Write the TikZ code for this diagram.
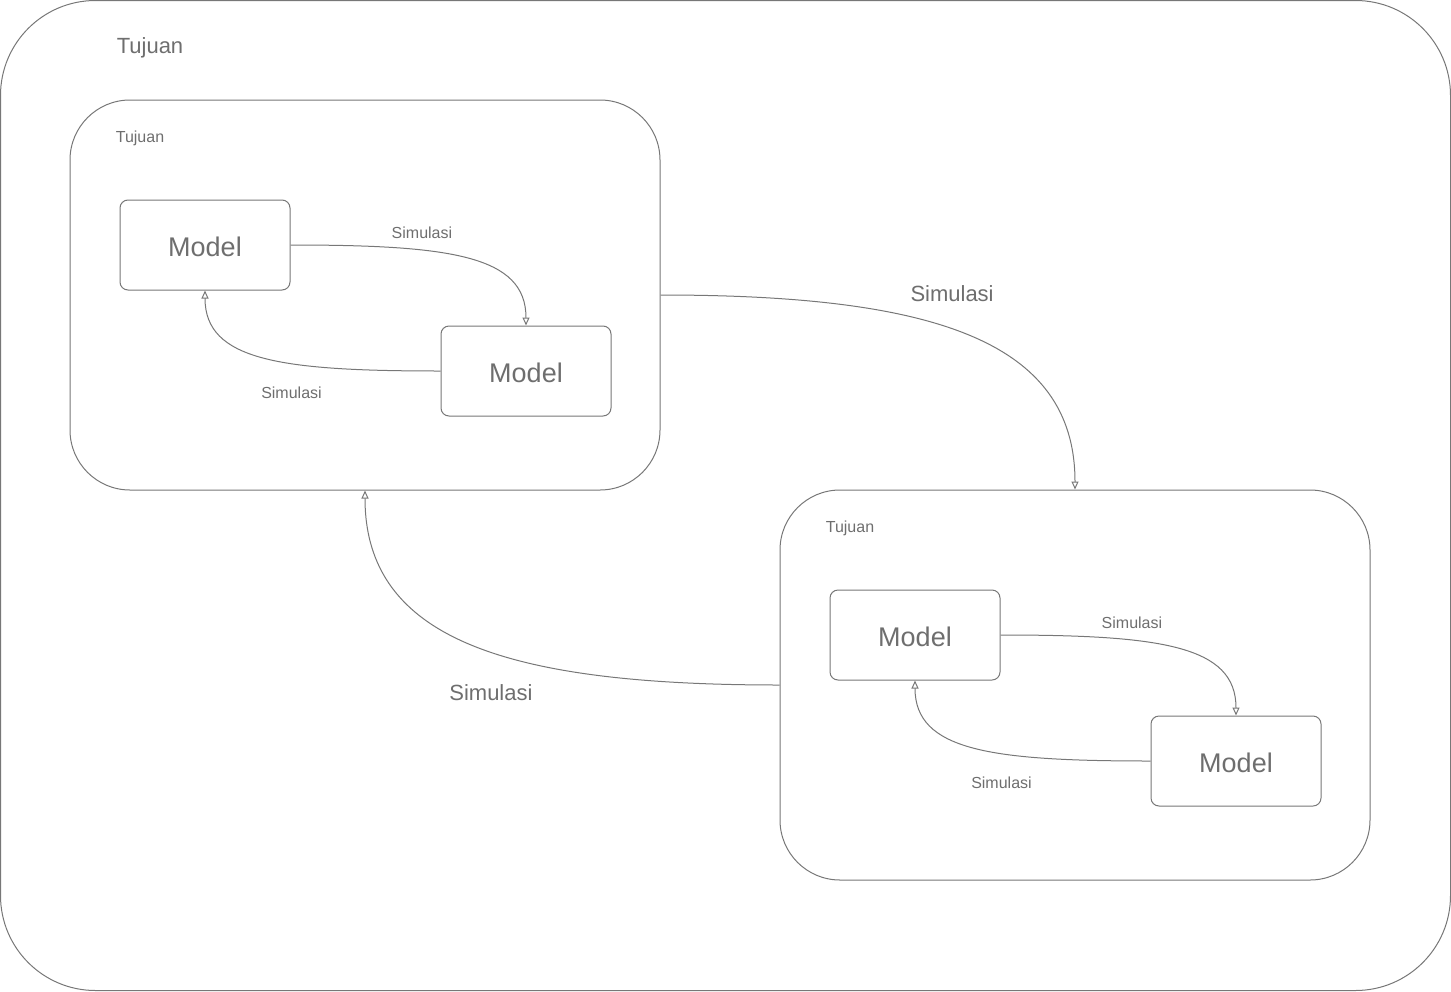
\documentclass[tikz,border=0pt]{standalone}
\usepackage{fontspec}
\setmainfont{Liberation Sans}
\usepackage{xcolor}
\usetikzlibrary{arrows.meta,positioning}
\definecolor{inkgray}{HTML}{777777}
\definecolor{txtgray}{HTML}{6E6E6E}
\newcommand{\mdltext}{\raisebox{-2pt}[\height][\depth]{Model}}

\begin{document}
\begin{tikzpicture}[x=1pt,y=-1pt,
  grp/.style={draw=inkgray,line width=1pt,rounded corners=60pt,minimum width=590pt,minimum height=390pt,inner sep=0pt},
  mdl/.style={draw=inkgray,line width=1pt,rounded corners=8pt,minimum width=170pt,minimum height=90pt,inner sep=0pt,text=txtgray,font=\fontsize{27}{32}\selectfont},
  lblS/.style={text=txtgray,font=\fontsize{16}{19}\selectfont,inner sep=0pt},
  lblB/.style={text=txtgray,font=\fontsize{22}{26}\selectfont,inner sep=0pt},
  arr/.style={-{Triangle[open,length=8pt,width=7pt]},draw=inkgray,line width=1pt}]
\useasboundingbox (0,0) rectangle (1451,991);
\draw[inkgray,line width=1pt,rounded corners=95pt] (0.5,0.5) rectangle (1450.5,990.5);
\node[lblB] (tO) at (150,48) {Tujuan};
% first group
\node[grp] (gA) at (365,295) {};
\node[lblS] (tA) at (140,138) {Tujuan};
\node[mdl] (a1) at (205,245) {\mdltext};
\node[mdl,below right=35pt and 150pt of a1] (a2) {\mdltext};
\draw[arr] (a1.east) .. controls +(160,0) and +(0,-70) .. node[lblS,pos=0.3,above=10pt,xshift=10pt]{Simulasi} (a2.north);
\draw[arr] (a2.west) .. controls +(-160,0) and +(0,70) .. node[lblS,pos=0.4,below=24pt,xshift=3pt]{Simulasi} (a1.south);
% second group
\node[grp] (gB) at (1075,685) {};
\node[lblS] (tB) at (850,528) {Tujuan};
\node[mdl] (b1) at (915,635) {\mdltext};
\node[mdl,below right=35pt and 150pt of b1] (b2) {\mdltext};
\draw[arr] (b1.east) .. controls +(160,0) and +(0,-70) .. node[lblS,pos=0.3,above=10pt,xshift=10pt]{Simulasi} (b2.north);
\draw[arr] (b2.west) .. controls +(-160,0) and +(0,70) .. node[lblS,pos=0.4,below=24pt,xshift=3pt]{Simulasi} (b1.south);
% between groups
\draw[arr] (gA.east) .. controls +(270,0) and +(0,-150) .. node[lblB,pos=0.47,above=29pt,xshift=-4pt]{Simulasi} (gB.north);
\draw[arr] (gB.west) .. controls +(-270,0) and +(0,150) .. node[lblB,pos=0.47,below=35pt,xshift=7pt]{Simulasi} (gA.south);
\end{tikzpicture}
\end{document}
